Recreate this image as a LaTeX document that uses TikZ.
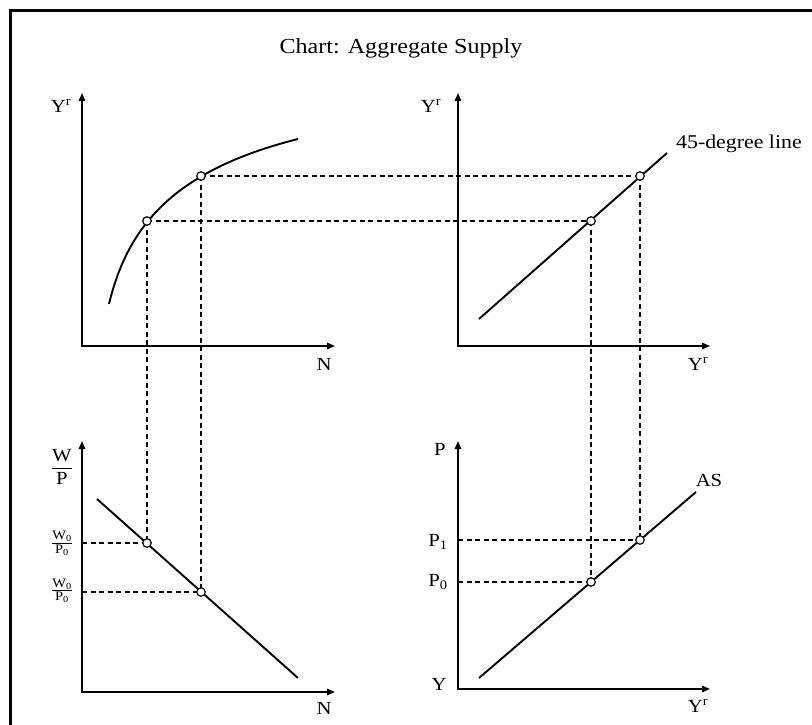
\documentclass[tikz,border=0pt]{standalone}
\usepackage{amsmath}
\usepackage{fontspec}
\setmainfont{Liberation Serif}[FakeStretch=1.12]
\usetikzlibrary{arrows.meta}
\begin{document}
\begin{tikzpicture}[x=1pt,y=-1pt,
  axis/.style={line width=1.5pt,{Triangle[length=8pt,width=6.5pt]}-{Triangle[length=8pt,width=6.5pt]}},
  curveline/.style={line width=1.9pt},
  guide/.style={line width=1.3pt,dash pattern=on 5pt off 3.5pt},
  dot/.style={circle,draw,fill=white,line width=1.2pt,inner sep=0pt,minimum size=8.5pt},
  lbl/.style={inner sep=0pt,font=\fontsize{18.5}{22}\selectfont},
]
\useasboundingbox (0,0) rectangle (812,725);
\clip (0,0) rectangle (812,725);
% frame
\draw[line width=3pt] (10,740) -- (10,10.5) -- (830,10.5);
% title
\node[inner sep=0pt,font=\fontsize{21.5}{24}\selectfont] (title) at (401,48) {Chart: Aggregate Supply};

% axes coordinates
\coordinate (o1) at (82,346);  \coordinate (y1) at (82,93);  \coordinate (x1) at (335,346);
\coordinate (o2) at (458,346); \coordinate (y2) at (458,93); \coordinate (x2) at (710,346);
\coordinate (o3) at (82,692);  \coordinate (y3) at (82,441); \coordinate (x3) at (335,692);
\coordinate (o4) at (458,689); \coordinate (y4) at (458,441);\coordinate (x4) at (710,689);

% points
\coordinate (A1) at (147,221); \coordinate (A2) at (201,176);
\coordinate (B1) at (591,221); \coordinate (B2) at (640,176);
\coordinate (C1) at (147,543); \coordinate (C2) at (201,592);
\coordinate (D1) at (591,582); \coordinate (D2) at (640,540);
% axis feet for guides
\coordinate (fC1) at (o3 |- C1); \coordinate (fC2) at (o3 |- C2);
\coordinate (fD1) at (o4 |- D1); \coordinate (fD2) at (o4 |- D2);

% dashed guides
\draw[guide] (A1) -- (B1);
\draw[guide] (A2) -- (B2);
\draw[guide] (A1) -- (C1);
\draw[guide] (A2) -- (C2);
\draw[guide] (B1) -- (D1);
\draw[guide] (B2) -- (D2);
\draw[guide] (fC1) -- (C1);
\draw[guide] (fC2) -- (C2);
\draw[guide] (fD1) -- (D1);
\draw[guide] (fD2) -- (D2);

% axes
\draw[axis] (y1) -- (o1) -- (x1);
\draw[axis] (y2) -- (o2) -- (x2);
\draw[axis] (y3) -- (o3) -- (x3);
\draw[axis] (y4) -- (o4) -- (x4);

% curves
\coordinate (pf0) at (109,304); \coordinate (pf1) at (298,139);
\draw[curveline] (pf0) .. controls (128,225) and (175,170) .. (pf1);
\coordinate (l2s) at (479,319); \coordinate (l2e) at (667,153);
\draw[curveline] (l2s) -- (l2e);
\coordinate (l3s) at (97,499); \coordinate (l3e) at (298,678);
\draw[curveline] (l3s) -- (l3e);
\coordinate (l4s) at (479,678); \coordinate (l4e) at (696,492);
\draw[curveline] (l4s) -- (l4e);

% dots
\foreach \p in {A1,A2,B1,B2,C1,C2,D1,D2} \node[dot] (d\p) at (\p) {};

% labels
\node[lbl] (ly1) at (61,106) {Y\textsuperscript{r}};
\node[lbl] (lx1) at (324,364) {N};
\node[lbl] (ly2) at (431,106) {Y\textsuperscript{r}};
\node[lbl] (lx2) at (698,364) {Y\textsuperscript{r}};
\node[lbl,anchor=west,font=\fontsize{19.5}{22}\selectfont] (l45) at (676,144) {45-degree line};
\node[lbl] (ly3) at (62,467) {$\displaystyle\frac{\text{W}}{\text{P}}$};
\node[lbl] (lw1) at (62,543.5) {$\frac{\text{W}_{\text{0}}}{\text{P}_{\text{0}}}$};
\node[lbl] (lw2) at (62,591) {$\frac{\text{W}_{\text{0}}}{\text{P}_{\text{0}}}$};
\node[lbl] (lx3) at (324,708) {N};
\node[lbl] (ly4) at (440,449) {P};
\node[lbl] (lp1) at (438,542) {P\textsubscript{1}};
\node[lbl] (lp0) at (438,582) {P\textsubscript{0}};
\node[lbl] (lyy) at (439,684) {Y};
\node[lbl] (lx4) at (698,706) {Y\textsuperscript{r}};
\node[lbl] (las) at (709,480) {AS};
\end{tikzpicture}
\end{document}
